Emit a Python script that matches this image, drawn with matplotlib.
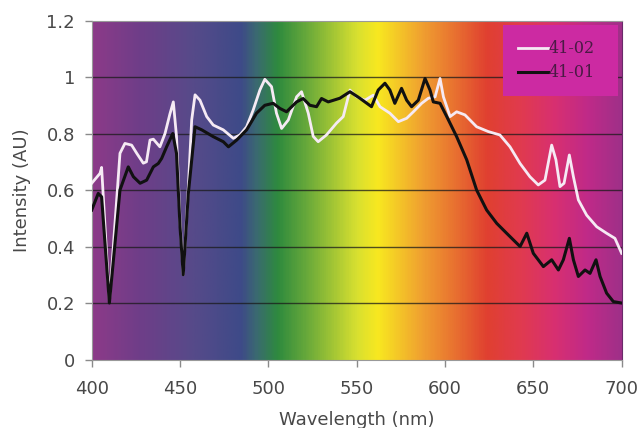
import numpy as np
import matplotlib
matplotlib.use('Agg')
import matplotlib.pyplot as plt
from matplotlib.colors import LinearSegmentedColormap

# spectrum background stops (nm, colour)
bg_wl = [400, 427, 456, 484, 493, 505, 522, 550, 562, 587, 606, 624, 644, 662, 681, 700]
bg_col = ['#8c3a88', '#6e3e88', '#574a8a', '#3e4a88', '#3a6a70', '#2e8a3e', '#6aaa3a',
          '#d8e030', '#f8e820', '#f0a030', '#e87030', '#e04030', '#e03a50', '#d83070',
          '#c02a88', '#a03088']

# sample 41-02 (white)
wl_02 = [400, 404.7, 405.6, 410, 416, 418.8, 422.6, 425.5, 429.2, 431, 433, 434.9, 438.6,
         441.5, 444.3, 446.2, 448, 450, 451.8, 454.7, 456.6, 458.5, 461.3, 465.1, 468.8,
         474.5, 480.2, 483.9, 487.7, 491.4, 495.2, 498, 501.8, 504.6, 507.5, 511.3, 516,
         518.8, 522.6, 525.4, 528.2, 532.9, 538.6, 542.4, 546.2, 549.9, 554.7, 559.4,
         563.2, 568.8, 573.6, 578.3, 582.1, 586.8, 590.6, 594.4, 597.2, 599.1, 602.9,
         606.6, 611.3, 617.9, 624.5, 631.1, 636.8, 642.5, 648.1, 652.8, 656.6, 660.4,
         662.8, 665.1, 667.4, 670.4, 672.7, 675.5, 680.2, 685.9, 691.5, 696.2, 700]
int_02 = [0.624, 0.659, 0.68, 0.205, 0.73, 0.765, 0.759, 0.73, 0.695, 0.70, 0.777, 0.78,
          0.753, 0.80, 0.87, 0.912, 0.79, 0.49, 0.30, 0.61, 0.848, 0.937, 0.918, 0.86,
          0.83, 0.813, 0.783, 0.795, 0.824, 0.883, 0.954, 0.992, 0.966, 0.872, 0.818,
          0.848, 0.93, 0.948, 0.872, 0.79, 0.771, 0.795, 0.837, 0.86, 0.954, 0.93, 0.918,
          0.936, 0.895, 0.872, 0.842, 0.854, 0.877, 0.907, 0.925, 0.93, 0.995, 0.93, 0.86,
          0.877, 0.866, 0.824, 0.807, 0.795, 0.753, 0.694, 0.647, 0.618, 0.635, 0.759,
          0.707, 0.612, 0.624, 0.724, 0.647, 0.565, 0.511, 0.47, 0.447, 0.429, 0.376]

# sample 41-01 (black)
wl_01 = [400, 403.7, 405.6, 410, 416, 420.7, 423.6, 427.4, 431.1, 434.9, 437.7, 439.6,
         442.4, 445.9, 448, 450, 451.8, 454.7, 458.5, 462.3, 468.8, 474.5, 477.4, 482.1,
         487.7, 493.3, 498, 502.7, 506.5, 510.3, 516, 519.7, 523.5, 527.3, 530.1, 533.9,
         540.5, 546.2, 551.8, 558.4, 562.2, 566, 568.8, 571.6, 575.4, 578.3, 581.1, 584.9,
         588.7, 591.5, 593.4, 597.2, 601, 606.6, 612.3, 617.9, 623.6, 629.3, 634.9, 642.5,
         646.3, 650, 655.7, 660.4, 664.2, 667, 670.4, 672.7, 675.5, 679.3, 682.1, 685.5,
         687.8, 691.5, 695.3, 700]
int_01 = [0.529, 0.588, 0.576, 0.2, 0.60, 0.682, 0.647, 0.624, 0.635, 0.682, 0.694, 0.712,
          0.753, 0.80, 0.73, 0.47, 0.30, 0.588, 0.824, 0.813, 0.789, 0.771, 0.753, 0.777,
          0.813, 0.872, 0.90, 0.907, 0.889, 0.877, 0.912, 0.924, 0.90, 0.895, 0.924, 0.912,
          0.925, 0.948, 0.925, 0.895, 0.954, 0.978, 0.954, 0.907, 0.96, 0.918, 0.895, 0.918,
          0.995, 0.954, 0.912, 0.907, 0.86, 0.789, 0.707, 0.60, 0.529, 0.482, 0.447, 0.40,
          0.447, 0.376, 0.329, 0.353, 0.317, 0.353, 0.429, 0.353, 0.294, 0.317, 0.305,
          0.353, 0.294, 0.235, 0.205, 0.20]

plt.rcParams['font.family'] = ['DejaVu Sans']

fig = plt.figure(figsize=(6.4, 4.28), dpi=100)
ax = fig.add_axes([0.1433, 0.160, 0.828, 0.792])

# gradient background
pos = [(w - bg_wl[0]) / (bg_wl[-1] - bg_wl[0]) for w in bg_wl]
cmap = LinearSegmentedColormap.from_list('spec', list(zip(pos, bg_col)))
grad = np.linspace(0, 1, 600).reshape(1, -1)
ax.imshow(grad, cmap=cmap, aspect='auto', extent=[400, 700, 0, 1.2], zorder=0)

for yv in np.arange(0.2, 1.19, 0.2):
    ax.axhline(yv, color='#1a1a1a', lw=1.0, alpha=0.75, zorder=1)

ax.plot(wl_02, int_02, color='#f6eaf4', lw=2.0, label='41-02', zorder=3)
ax.plot(wl_01, int_01, color='#111111', lw=2.2, label='41-01', zorder=3)

ax.set_xlim(400, 700)
ax.set_ylim(0, 1.2)
ax.set_xticks(np.arange(400, 701, 50))
ax.set_yticks([0, 0.2, 0.4, 0.6, 0.8, 1, 1.2])
ax.set_yticklabels(['0', '0.2', '0.4', '0.6', '0.8', '1', '1.2'])

txt = '#484848'
ax.tick_params(axis='both', labelsize=13, colors='#8a8a8a', labelcolor=txt, length=5,
               width=1)
ax.tick_params(axis='y', pad=7)
ax.tick_params(axis='x', pad=10)
ax.set_xlabel('Wavelength (nm)', fontsize=13, color=txt, labelpad=9)
ax.set_ylabel('Intensity (AU)', fontsize=13, color=txt, labelpad=11)

for side in ['left', 'bottom', 'top']:
    ax.spines[side].set_color('#999999')
ax.spines['right'].set_color('#6a2a6a')

leg = ax.legend(loc='upper left', bbox_to_anchor=(0.776, 0.5, 0.217, 0.487), mode='expand',
                frameon=True, fancybox=False, facecolor='#cc2aa2', edgecolor='none',
                framealpha=1, prop={'family': 'DejaVu Serif', 'size': 11.5},
                handlelength=1.9, handletextpad=0.0, borderpad=0.95, labelspacing=0.45,
                borderaxespad=0)
for t in leg.get_texts():
    t.set_color('#4a1a44')
leg.set_zorder(5)

fig.savefig('out.png', dpi=100)
